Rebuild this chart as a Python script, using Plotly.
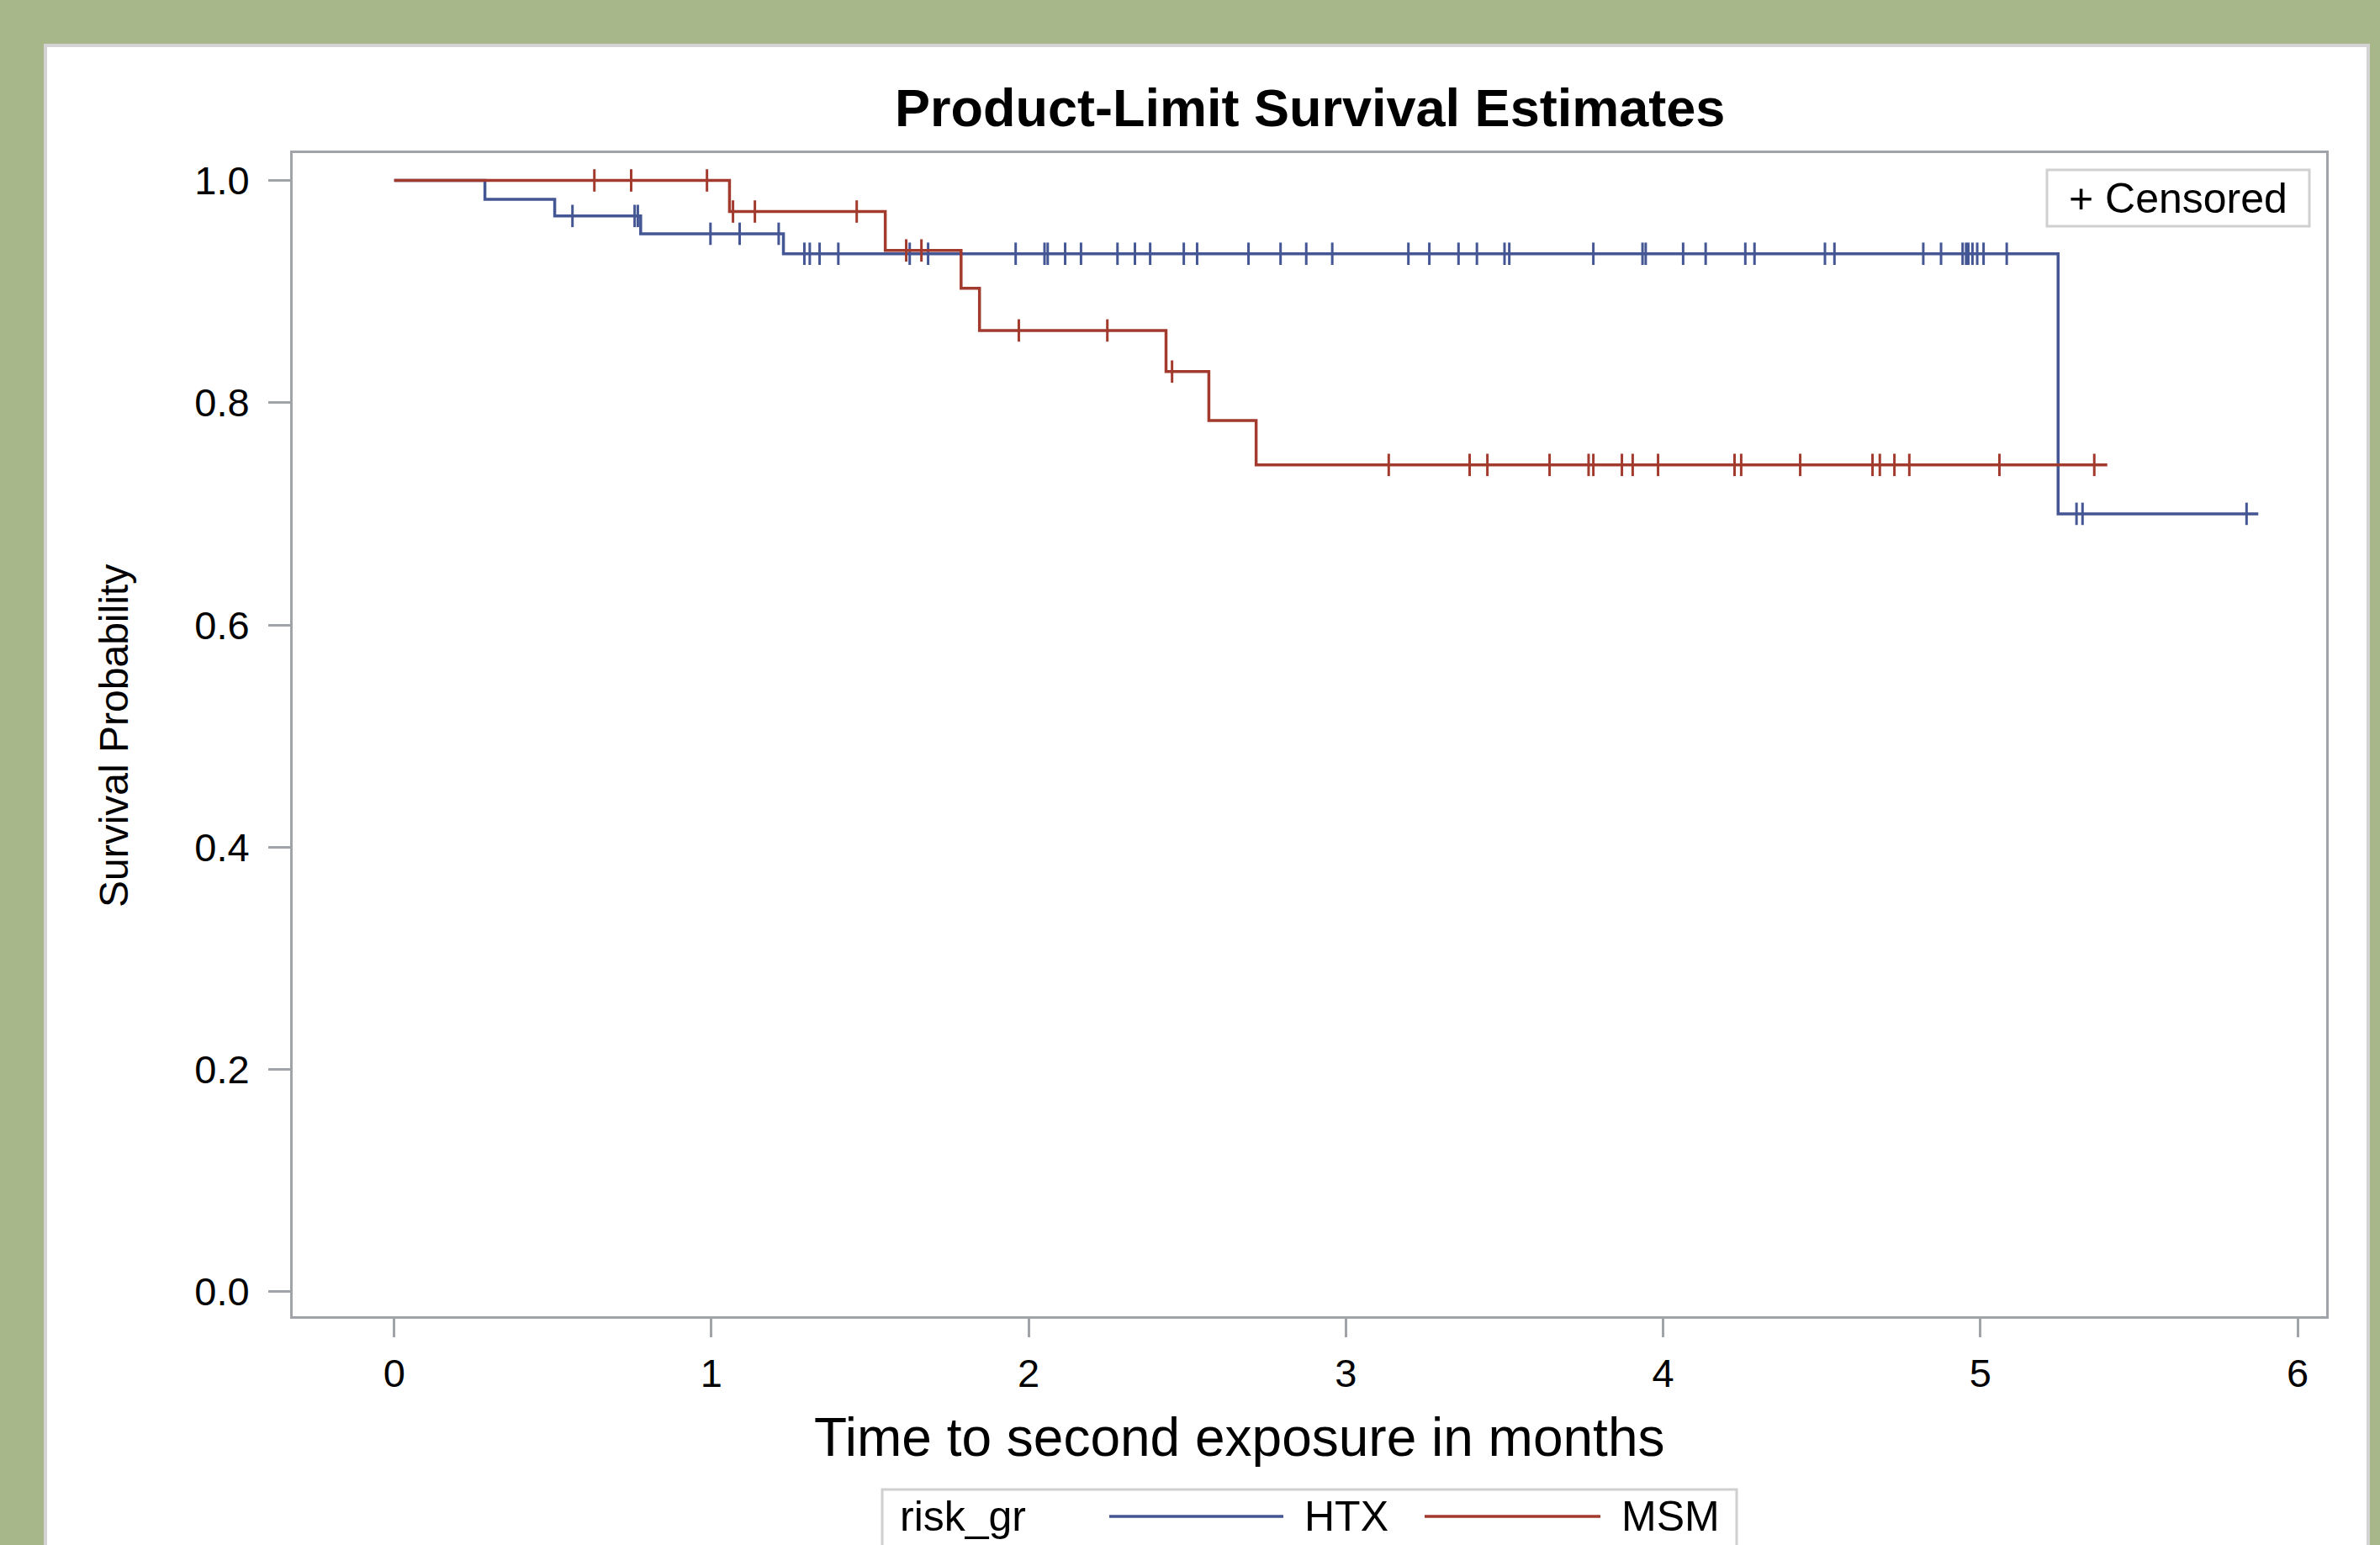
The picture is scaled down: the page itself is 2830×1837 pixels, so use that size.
import plotly.graph_objects as go

# ---------------- data ----------------
groups = ["HTX", "MSM"]

htx_event_times = [0.0, 0.286, 0.506, 0.777, 1.227, 5.245]
htx_survival = [1.0, 0.983, 0.968, 0.952, 0.934, 0.700]
htx_end_time = 5.876
htx_censored = [0.562, 0.758, 0.768, 0.997, 1.089, 1.212, 1.293, 1.310, 1.341, 1.400,
                1.625, 1.683, 1.959, 2.050, 2.060, 2.115, 2.165, 2.280, 2.335, 2.383,
                2.489, 2.531, 2.693, 2.794, 2.875, 2.957, 3.197, 3.263, 3.355, 3.413,
                3.500, 3.515, 3.780, 3.935, 3.945, 4.063, 4.134, 4.259, 4.288, 4.510,
                4.540, 4.820, 4.876, 4.944, 4.955, 4.962, 4.975, 4.990, 5.010, 5.083,
                5.303, 5.322, 5.839]

msm_event_times = [0.0, 1.057, 1.548, 1.787, 1.845, 2.433, 2.568, 2.717]
msm_survival = [1.0, 0.972, 0.937, 0.903, 0.865, 0.828, 0.784, 0.744]
msm_end_time = 5.40
msm_censored = [0.631, 0.747, 0.986, 1.068, 1.137, 1.458, 1.614, 1.662, 1.969, 2.248,
                2.452, 3.135, 3.390, 3.446, 3.642, 3.765, 3.780, 3.870, 3.904, 3.984,
                4.225, 4.246, 4.432, 4.660, 4.683, 4.729, 4.776, 5.060, 5.359]

x_ticks = [0, 1, 2, 3, 4, 5, 6]
y_ticks = [0.0, 0.2, 0.4, 0.6, 0.8, 1.0]
y_tick_labels = ["0.0", "0.2", "0.4", "0.6", "0.8", "1.0"]

colors = {"HTX": "#445694", "MSM": "#A23A2E"}

FONT = "Liberation Sans, Arial, sans-serif"
AXIS_GRAY = "#A0A4A8"
BOX_GRAY = "#D0D0D0"


def surv_at(t, times, surv):
    val = surv[0]
    for ti, si in zip(times, surv):
        if ti <= t:
            val = si
    return val


fig = go.Figure()

series = [
    ("HTX", htx_event_times, htx_survival, htx_end_time, htx_censored),
    ("MSM", msm_event_times, msm_survival, msm_end_time, msm_censored),
]

for name, times, surv, end_t, cens in series:
    fig.add_trace(go.Scatter(
        x=list(times) + [end_t],
        y=list(surv) + [surv[-1]],
        mode="lines",
        line=dict(color=colors[name], width=3.5, shape="hv"),
        name=name,
        showlegend=False,
        hoverinfo="skip",
    ))
    fig.add_trace(go.Scatter(
        x=cens,
        y=[surv_at(t, times, surv) for t in cens],
        mode="markers",
        marker=dict(symbol="line-ns", size=19,
                    line=dict(color=colors[name], width=3)),
        name=name + " censored",
        showlegend=False,
        hoverinfo="skip",
    ))

# plot area in pixels
L, R, T, B = 348, 2766, 182, 1565
W, H = 2830, 1837
PW, PH = R - L, B - T


def px(x):
    return (x - L) / PW


def py(y):
    return (B - y) / PH


shapes = [
    # white panel
    dict(type="rect", xref="paper", yref="paper", layer="below",
         x0=px(54), x1=px(2816), y0=py(1900), y1=py(54),
         fillcolor="white", line=dict(color="#D3D3D3", width=4)),
    # censored box
    dict(type="rect", xref="paper", yref="paper",
         x0=px(2434), x1=px(2746), y0=py(269), y1=py(202),
         fillcolor="white", line=dict(color=BOX_GRAY, width=3)),
    # bottom legend box
    dict(type="rect", xref="paper", yref="paper",
         x0=px(1049), x1=px(2065), y0=py(1900), y1=py(1771),
         fillcolor="white", line=dict(color=BOX_GRAY, width=3)),
    # legend lines
    dict(type="line", xref="paper", yref="paper",
         x0=px(1319), x1=px(1526), y0=py(1803), y1=py(1803),
         line=dict(color=colors["HTX"], width=3.5)),
    dict(type="line", xref="paper", yref="paper",
         x0=px(1694), x1=px(1903), y0=py(1803), y1=py(1803),
         line=dict(color=colors["MSM"], width=3.5)),
]

annotations = [
    dict(text="<b>Product-Limit Survival Estimates</b>", xref="paper", yref="paper",
         x=0.5, y=py(128), xanchor="center", yanchor="middle", showarrow=False,
         font=dict(family=FONT, size=63, color="black")),
    dict(text="Time to second exposure in months", xref="paper", yref="paper",
         x=px(1473), y=py(1709), xanchor="center", yanchor="middle", showarrow=False,
         font=dict(family=FONT, size=64, color="black")),
    dict(text="Survival Probability", xref="paper", yref="paper",
         x=px(135), y=py(875), xanchor="center", yanchor="middle", showarrow=False,
         textangle=-90, font=dict(family=FONT, size=48, color="black")),
    dict(text="+ Censored", xref="paper", yref="paper",
         x=px(2590), y=py(236), xanchor="center", yanchor="middle", showarrow=False,
         font=dict(family=FONT, size=50, color="black")),
    dict(text="risk_gr", xref="paper", yref="paper",
         x=px(1068), y=py(1803), xanchor="left", yanchor="middle", showarrow=False,
         font=dict(family=FONT, size=50, color="black")),
    dict(text=groups[0], xref="paper", yref="paper",
         x=px(1549), y=py(1803), xanchor="left", yanchor="middle", showarrow=False,
         font=dict(family=FONT, size=50, color="black")),
    dict(text=groups[1], xref="paper", yref="paper",
         x=px(1926), y=py(1803), xanchor="left", yanchor="middle", showarrow=False,
         font=dict(family=FONT, size=50, color="black")),
]

fig.update_layout(
    width=W, height=H,
    margin=dict(l=L, r=W - R, t=T, b=H - B, pad=0),
    paper_bgcolor="#A8B78A",
    plot_bgcolor="white",
    showlegend=False,
    shapes=shapes,
    annotations=annotations,
    font=dict(family=FONT, color="black"),
)

fig.update_xaxes(
    range=[-0.32, 6.09], tickmode="array", tickvals=x_ticks,
    ticks="outside", ticklen=22, tickwidth=3, tickcolor=AXIS_GRAY,
    showline=True, linecolor=AXIS_GRAY, linewidth=3, mirror=True,
    showgrid=False, zeroline=False,
    tickfont=dict(family=FONT, size=47, color="black"),
    ticklabelstandoff=3,
)
fig.update_yaxes(
    range=[-0.022, 1.0246], tickmode="array", tickvals=y_ticks, ticktext=y_tick_labels,
    ticks="outside", ticklen=26, tickwidth=3, tickcolor=AXIS_GRAY,
    showline=True, linecolor=AXIS_GRAY, linewidth=3, mirror=True,
    showgrid=False, zeroline=False,
    tickfont=dict(family=FONT, size=47, color="black"),
    ticklabelstandoff=13,
)

fig.write_html(
    "out.html",
    config={"displayModeBar": False},
    post_script="document.body.style.margin='0';document.body.style.padding='0';"
                "document.body.style.overflow='hidden';",
)
